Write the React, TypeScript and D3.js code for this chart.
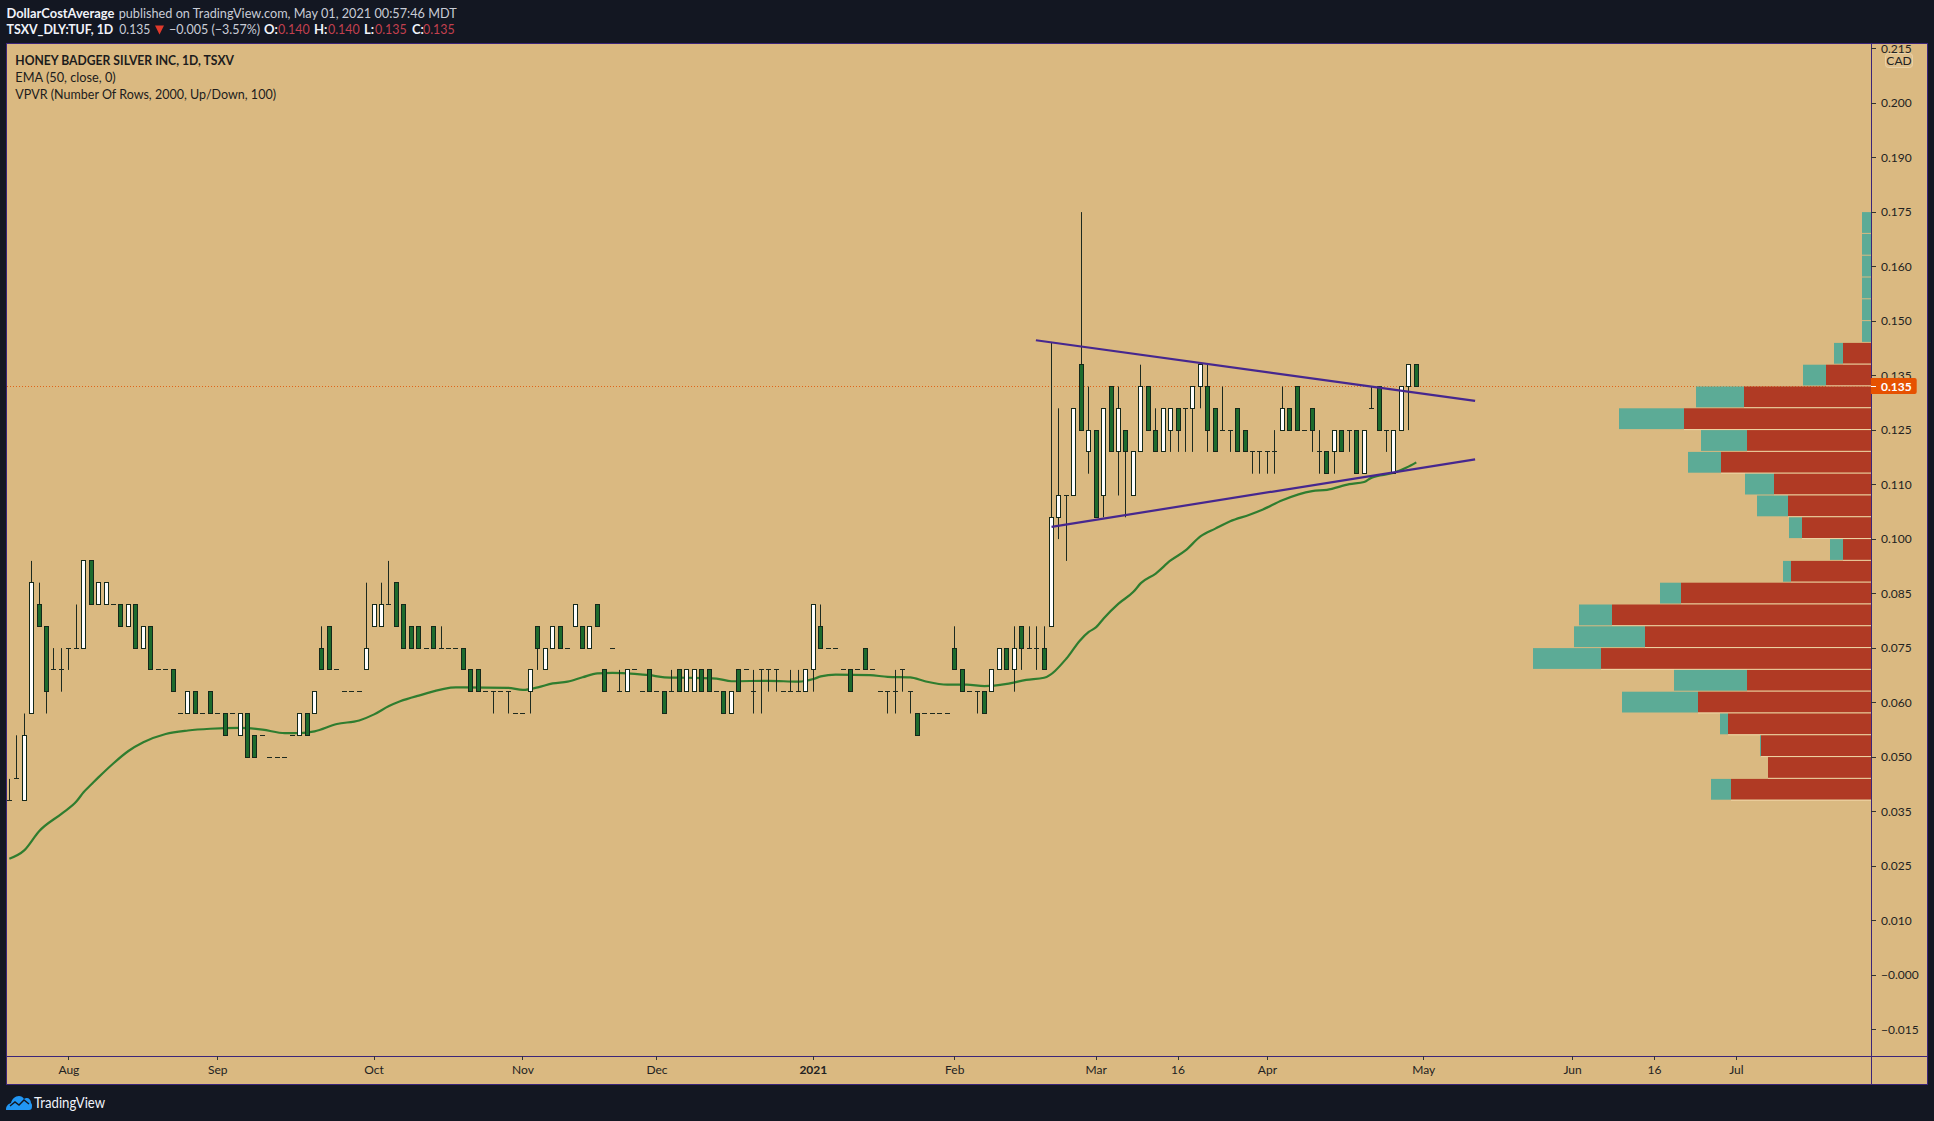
import React from "react";
import * as d3 from "d3";

const W = 1934;
const H = 1121;

// daily candles, bar index 0 = first visible bar
const opens = [
  .04,.045,.04,.06,.085,.08,.07,.07,.075,.075,
  .075,.095,.085,.085,.085,.085,.08,.085,.075,.08,
  .07,.07,.07,.06,.06,.065,.06,.065,.06,.06,
  .06,.055,.06,.055,.055,.05,.05,.05,.055,.055,
  .06,.06,.075,.08,.07,.065,.065,.065,.07,.08,
  .08,.085,.09,.085,.08,.08,.075,.08,.075,.075,
  .075,.075,.07,.07,.065,.065,.065,.065,.06,.06,
  .065,.08,.07,.075,.08,.075,.08,.08,.075,.085,
  .07,.075,.065,.065,.07,.065,.07,.065,.065,.065,
  .07,.065,.065,.07,.07,.065,.065,.06,.07,.07,
  .065,.07,.07,.07,.065,.065,.065,.065,.07,.08,
  .075,.075,.07,.07,.07,.075,.07,.065,.065,.065,
  .07,.065,.06,.06,.06,.06,.06,.075,.07,.065,
  .065,.065,.065,.07,.075,.07,.08,.075,.075,.075,
  .08,.105,.11,.11,.14,.12,.125,.11,.135,.12,
  .125,.11,.12,.135,.125,.12,.125,.13,.13,.13,
  .135,.135,.13,.125,.125,.13,.125,.12,.12,.12,
  .12,.125,.13,.135,.125,.13,.12,.12,.12,.125,
  .125,.125,.115,.13,.135,.125,.115,.125,.135,.14,
];
const highs = [
  .045,.055,.06,.095,.09,.08,.075,.075,.075,.085,
  .095,.095,.09,.09,.085,.085,.085,.085,.08,.08,
  .07,.07,.07,.06,.065,.065,.06,.065,.06,.06,
  .06,.06,.06,.055,.055,.05,.05,.05,.055,.06,
  .06,.065,.08,.08,.07,.065,.065,.065,.09,.085,
  .09,.095,.09,.085,.08,.08,.075,.08,.08,.075,
  .075,.075,.07,.07,.065,.065,.065,.065,.06,.06,
  .07,.08,.075,.08,.08,.075,.085,.08,.08,.085,
  .07,.075,.07,.07,.07,.065,.07,.065,.065,.07,
  .07,.07,.07,.07,.07,.065,.065,.065,.07,.07,
  .07,.07,.07,.07,.065,.07,.07,.07,.085,.085,
  .075,.075,.07,.07,.07,.075,.07,.065,.065,.07,
  .07,.065,.06,.06,.06,.06,.06,.08,.07,.065,
  .065,.065,.07,.075,.075,.08,.08,.08,.08,.08,
  .145,.13,.11,.13,.175,.135,.125,.13,.135,.135,
  .125,.12,.14,.135,.13,.13,.13,.13,.13,.135,
  .14,.14,.13,.135,.125,.13,.125,.12,.12,.12,
  .125,.135,.13,.135,.125,.13,.125,.12,.125,.125,
  .125,.125,.125,.135,.135,.125,.125,.135,.14,.14,
];
const lows = [
  .04,.045,.04,.06,.08,.06,.07,.065,.07,.075,
  .075,.085,.085,.085,.085,.08,.08,.075,.075,.07,
  .07,.07,.065,.06,.06,.06,.06,.06,.06,.055,
  .06,.055,.05,.05,.055,.05,.05,.05,.055,.055,
  .055,.06,.07,.07,.07,.065,.065,.065,.07,.08,
  .08,.085,.08,.075,.075,.075,.075,.075,.075,.075,
  .075,.07,.065,.065,.065,.06,.065,.06,.06,.06,
  .06,.07,.07,.075,.075,.075,.08,.075,.075,.08,
  .065,.075,.065,.065,.07,.065,.065,.065,.06,.065,
  .065,.065,.065,.065,.065,.065,.06,.06,.065,.07,
  .06,.06,.065,.065,.065,.065,.065,.065,.065,.075,
  .075,.075,.07,.065,.07,.07,.07,.065,.06,.06,
  .065,.06,.055,.06,.06,.06,.06,.07,.065,.065,
  .06,.06,.065,.07,.07,.065,.07,.075,.07,.07,
  .08,.1,.095,.11,.125,.115,.105,.105,.12,.11,
  .105,.11,.12,.125,.12,.12,.12,.12,.12,.12,
  .13,.12,.12,.125,.12,.12,.12,.115,.115,.115,
  .115,.125,.125,.125,.125,.12,.115,.115,.115,.12,
  .12,.115,.115,.13,.125,.12,.115,.125,.125,.135,
];
const closes = [
  .04,.045,.055,.09,.08,.065,.07,.07,.075,.075,
  .095,.085,.09,.09,.085,.08,.085,.075,.08,.07,
  .07,.07,.065,.06,.065,.06,.06,.06,.06,.055,
  .06,.06,.05,.05,.055,.05,.05,.05,.055,.06,
  .055,.065,.07,.07,.07,.065,.065,.065,.075,.085,
  .085,.085,.08,.075,.075,.075,.075,.075,.075,.075,
  .075,.07,.065,.065,.065,.065,.065,.065,.06,.06,
  .07,.075,.075,.08,.075,.075,.085,.075,.08,.08,
  .065,.075,.065,.07,.07,.065,.065,.065,.06,.065,
  .065,.07,.07,.065,.065,.065,.06,.065,.065,.07,
  .065,.07,.07,.07,.065,.065,.065,.07,.085,.075,
  .075,.075,.07,.065,.07,.07,.07,.065,.065,.065,
  .07,.065,.055,.06,.06,.06,.06,.07,.065,.065,
  .065,.06,.07,.075,.07,.075,.075,.075,.075,.07,
  .105,.11,.11,.13,.125,.125,.105,.13,.12,.13,
  .12,.12,.135,.125,.12,.13,.13,.125,.13,.135,
  .14,.125,.12,.125,.125,.12,.12,.12,.12,.12,
  .12,.13,.125,.125,.125,.125,.12,.115,.125,.12,
  .125,.115,.125,.13,.125,.125,.125,.135,.14,.135,
];

// EMA 50 read at its bends
const emaIndex = [
  0,2,4,7,9,10,11,12,14,16,18,21,24,27,31,34,37,39,41,44,47,49,51,52.5,55,
  60,61,67,69,71,73,75,77,79,81,84,86,88,91,95,97,102,106,108,109,111,115.6,118,121,
  123,126,128.6,131,134,136.6,139,142,143.8,145,146,147,149,151,152,154,156,158,160,162,164,166.6,
  168.4,171,175,177,180,182,183,186,187.7,189,
];
const emaValue = [
  .0267,.0286,.033,.037,.0398,.042,.0437,.0454,.0486,.0514,.0534,.0553,.0561,.0565,.0567,.0563,.0555,.0555,.0559,.0576,.0584,.0598,.0617,.0628,.0641,
  .066,.066,.0659,.0654,.066,.0669,.0673,.0683,.0692,.0693,.0691,.0688,.0683,.0682,.068,.0674,.0675,.0673,.0679,.0685,.0689,.0688,.0684,.0683,
  .0674,.0666,.0666,.0663,.0668,.0677,.0682,.0726,.0767,.0787,.0798,.0818,.0852,.0879,.0899,.0921,.0951,.0974,.1006,.1024,.1041,.1056,
  .1068,.1089,.111,.1113,.1126,.1131,.1141,.1152,.1164,.1176,
];

// volume profile rows, top price of each row
const vpRowTop = [
  .175,.17,.165,.16,.155,.15,.145,.14,.135,.13,.125,.12,.115,.11,
  .105,.1,.095,.09,.085,.08,.075,.07,.065,.06,.055,.05,.045,
];
const vpUp = [9,9,9,9,9,9,9,23,48,65,46,33,29,31,13,13,8,21,33,71,68,73,76,8,1,0,20];
const vpDown = [0,0,0,0,0,0,28,45,127,187,124,150,97,83,69,28,80,190,259,226,270,124,173,143,110,103,140];
const vpRowSize = 0.005;

// trend lines drawn on the chart: [bar, price]
const upperTrend: [number, number][] = [[137.9, .1456], [196.9, .1317]];
const lowerTrend: [number, number][] = [[140, .1028], [196.9, .1183]];

// price axis: real tick values and the labels the chart rounds them to
const priceTicks = [.2125,.2,.1875,.175,.1625,.15,.1375,.125,.1125,.1,.0875,.075,.0625,.05,.0375,.025,.0125,0,-.0125];
const priceLabels = ["0.215","0.200","0.190","0.175","0.160","0.150","0.135","0.125","0.110","0.100","0.085","0.075","0.060","0.050","0.035","0.025","0.010","−0.000","−0.015"];

const timeTicks = [8,28,49,69,87,108,127,146,157,169,190,210,221,232];
const timeLabels = ["Aug","Sep","Oct","Nov","Dec","2021","Feb","Mar","16","Apr","May","Jun","16","Jul"];

const lastPrice = 0.135;

const FONT = "Lato, 'Open Sans', sans-serif";
const TAN = "#dab981";
const DARK = "#131722";
const BORDER = "#3b2578";
const GREEN = "#1c6b2d";
const OUTLINE = "#14281a";
const TEAL = "#5cab96";
const RED = "#b03a24";

const plot = { left: 7, top: 44, right: 1871, bottom: 1056, panelRight: 1927, panelBottom: 1084 };

const x = d3.scaleLinear().domain([0, 189]).range([9.33, 1416.3]);
const y = d3.scaleLinear().domain([0.15, 0.1375]).range([321.1, 375.6]);
const vol = d3.scaleLinear().domain([0, 338]).range([0, 338]);

const snap = (v: number) => Math.floor(v) + 0.5;

const emaPath = d3
  .line<number>()
  .x((d) => x(emaIndex[d]))
  .y((d) => y(emaValue[d]))
  .curve(d3.curveMonotoneX)(d3.range(emaIndex.length)) as string;

const trendPath = d3
  .line<[number, number]>()
  .x((d) => x(d[0]))
  .y((d) => y(d[1]));

function Candle({ i }: { i: number }) {
  const cx = snap(x(i));
  const o = opens[i];
  const c = closes[i];
  const top = snap(y(Math.max(o, c)));
  const bottom = snap(y(Math.min(o, c)));
  const wick = (
    <line x1={cx} x2={cx} y1={y(highs[i])} y2={y(lows[i])} stroke="#1d2a1f" strokeWidth={1} />
  );
  if (o === c) {
    return (
      <g>
        {wick}
        <line x1={cx - 2.5} x2={cx + 2.5} y1={top} y2={top} stroke="#1d2a1f" strokeWidth={1} />
      </g>
    );
  }
  return (
    <g>
      {wick}
      <rect
        x={cx - 2}
        y={top}
        width={4}
        height={bottom - top}
        fill={c > o ? "#ffffff" : GREEN}
        stroke={OUTLINE}
        strokeWidth={1}
      />
    </g>
  );
}

// text stretched to the width it has in the reference
function Fit({ x: tx, y: ty, w, children, ...rest }: any) {
  return (
    <text x={tx} y={ty} textLength={w} lengthAdjust="spacingAndGlyphs" {...rest}>
      {children}
    </text>
  );
}

export default function App() {
  return (
    <svg
      width={W}
      height={H}
      viewBox={`0 0 ${W} ${H}`}
      style={{ position: "absolute", left: 0, top: 0, fontFamily: FONT }}
    >
      <defs>
        <clipPath id="plot-clip">
          <rect x={plot.left} y={plot.top} width={plot.right - plot.left} height={plot.bottom - plot.top} />
        </clipPath>
        <clipPath id="axis-clip">
          <rect x={plot.right} y={plot.top} width={plot.panelRight - plot.right} height={plot.bottom - plot.top} />
        </clipPath>
      </defs>

      <rect width={W} height={H} fill={DARK} />
      <rect
        x={6.5}
        y={43.5}
        width={plot.panelRight - 6}
        height={plot.panelBottom - 43}
        fill={TAN}
        stroke={BORDER}
        strokeWidth={1}
      />

      {/* header */}
      <g fontSize={13}>
        <Fit x={6.5} y={17.5} w={107.8} fill="#f0f3fa" fontWeight={700}>DollarCostAverage</Fit>
        <Fit x={118.7} y={17.5} w={338} fill="#c8ccd6">published on TradingView.com, May 01, 2021 00:57:46 MDT</Fit>
        <Fit x={6.5} y={34} w={106.8} fill="#f0f3fa" fontWeight={700}>TSXV_DLY:TUF, 1D</Fit>
        <Fit x={119.3} y={34} w={31} fill="#c8ccd6">0.135</Fit>
        <path d="M155 25.5h9l-4.5 9z" fill="#e0392b" />
        <Fit x={169} y={34} w={91} fill="#c8ccd6">−0.005 (−3.57%)</Fit>
        {[
          ["O:", 264, "0.140", 278],
          ["H:", 314, "0.140", 328],
          ["L:", 364, "0.135", 375],
          ["C:", 412, "0.135", 423],
        ].map(([k, kx, v, vx]) => (
          <g key={k as string}>
            <text x={kx as number} y={34} fill="#f0f3fa" fontWeight={700}>{k}</text>
            <Fit x={vx as number} y={34} w={31.7} fill="#c2404f">{v}</Fit>
          </g>
        ))}
      </g>

      {/* chart legend */}
      <g fontSize={13} fill="#1c1c1c">
        <Fit x={15.3} y={65} w={218.7} fontWeight={700}>HONEY BADGER SILVER INC, 1D, TSXV</Fit>
        <Fit x={15.3} y={82} w={100.4}>EMA (50, close, 0)</Fit>
        <Fit x={15.3} y={99} w={260.7}>VPVR (Number Of Rows, 2000, Up/Down, 100)</Fit>
      </g>

      <g clipPath="url(#plot-clip)">
        {/* last price line */}
        <line
          x1={plot.left}
          x2={plot.right}
          y1={snap(y(lastPrice))}
          y2={snap(y(lastPrice))}
          stroke="#e0651a"
          strokeWidth={1}
          strokeDasharray="1 2"
        />

        {/* volume profile */}
        {vpRowTop.map((p, i) => {
          const top = y(p);
          const h = y(p - vpRowSize) - top;
          const downW = vol(vpDown[i]);
          const upW = vol(vpUp[i]);
          return (
            <g key={p}>
              <rect x={plot.right - downW} y={top} width={downW} height={h - 1} fill={RED} />
              <rect x={plot.right - downW - upW} y={top} width={upW} height={h - 1} fill={TEAL} />
              <line
                x1={plot.right - downW}
                x2={plot.right}
                y1={top + h - 0.5}
                y2={top + h - 0.5}
                stroke="#f0d6a6"
                strokeWidth={1}
              />
            </g>
          );
        })}

        <path d={emaPath} fill="none" stroke="#2f7d2f" strokeWidth={2.2} />

        {opens.map((_, i) => (
          <Candle key={i} i={i} />
        ))}

        <path d={trendPath(upperTrend) as string} fill="none" stroke="#46278f" strokeWidth={2.2} />
        <path d={trendPath(lowerTrend) as string} fill="none" stroke="#46278f" strokeWidth={2.2} />
      </g>

      {/* price axis */}
      <line x1={plot.right + 0.5} x2={plot.right + 0.5} y1={plot.top} y2={plot.panelBottom} stroke={BORDER} />
      <g clipPath="url(#axis-clip)" fontSize={12} fill="#222">
        {priceTicks.map((p, i) => (
          <g key={p}>
            <line x1={plot.right} x2={plot.right + 5} y1={snap(y(p))} y2={snap(y(p))} stroke="#333" />
            <text x={1881} y={y(p)} dy="0.36em">{priceLabels[i]}</text>
          </g>
        ))}
      </g>
      <rect x={1885.5} y={53.5} width={27} height={14} rx={3} fill="#dfc08c" stroke="#ead2a8" />
      <text x={1899} y={64.5} textAnchor="middle" fontSize={12} fill="#222">CAD</text>

      <path d="M1871 378h43.7a2 2 0 0 1 2 2v12a2 2 0 0 1-2 2H1871z" fill="#e65100" />
      <line x1={plot.right} x2={plot.right + 5} y1={snap(y(lastPrice))} y2={snap(y(lastPrice))} stroke="#fff" />
      <text x={1881} y={y(lastPrice)} dy="0.36em" fontSize={12} fontWeight={700} fill="#fff">0.135</text>

      {/* time axis */}
      <line x1={plot.left} x2={plot.panelRight} y1={plot.bottom + 0.5} y2={plot.bottom + 0.5} stroke={BORDER} />
      <g fontSize={12} fill="#222">
        {timeTicks.map((t, i) => (
          <g key={i}>
            <line x1={snap(x(t))} x2={snap(x(t))} y1={plot.bottom} y2={plot.bottom + 4} stroke="#333" />
            <text
              x={x(t)}
              y={1074}
              textAnchor="middle"
              fontWeight={timeLabels[i] === "2021" ? 700 : 400}
            >
              {timeLabels[i]}
            </text>
          </g>
        ))}
      </g>

      {/* footer logo */}
      <path
        d="M6 1110c0-4 2-6 5-7 1-4 4-7 8-7 2 0 4 1 5 3 1-1 2-1 3-1 2 0 4 2 4 5 1 1 1 2 1 3 0 3-1 4-3 4H9c-2 0-3 0-3 0z"
        fill="#2196f3"
      />
      <path d="M10 1106l5-4 4 3 5-5 5 4" fill="none" stroke={DARK} strokeWidth={1.4} />
      <Fit x={34} y={1107.5} w={71} fontSize={14.5} fill="#f0f3fa">TradingView</Fit>
    </svg>
  );
}
